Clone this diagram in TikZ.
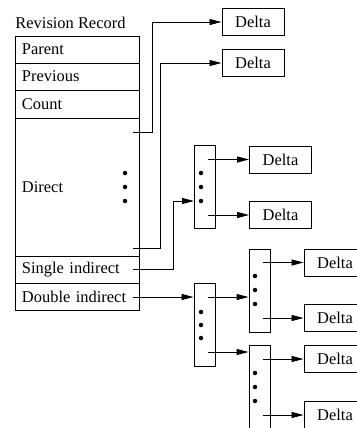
\documentclass[tikz,border=0pt]{standalone}
\usepackage{fontspec}
\setmainfont{Liberation Serif}
\usetikzlibrary{arrows.meta}
\begin{document}
\begin{tikzpicture}[x=1bp,y=-1bp,
  font=\fontsize{16.5}{18}\selectfont,
  line width=0.9bp,
  rowbox/.style={draw, minimum width=124bp, text width=110bp, inner xsep=7bp, inner ysep=0pt, align=left},
  delta/.style={draw, minimum width=62bp, minimum height=27bp, inner sep=0pt},
  ibox/.style={draw, minimum width=21bp, minimum height=83bp, inner sep=0pt},
  conn/.style={draw, -{Triangle[length=12bp,width=6bp]}},
  dotmark/.style={fill, circle, inner sep=0pt, minimum size=4.5bp}
]
\useasboundingbox (0,0) rectangle (357,428);

% Revision record
\node[anchor=base west, inner sep=0pt] (title) at (15,28) {Revision Record};
\node[rowbox, minimum height=27bp] (parent) at (77,49.5) {\mbox{Parent}};
\node[rowbox, minimum height=27bp] (previous) at (77,76.5) {\mbox{Previous}};
\node[rowbox, minimum height=28bp] (count) at (77,104) {\mbox{Count}};
\node[rowbox, minimum height=138bp] (direct) at (77,187) {\mbox{Direct}};
\node[rowbox, minimum height=27bp] (single) at (77,269.5) {\mbox{Single indirect}};
\node[rowbox, minimum height=27bp] (double) at (77,296.5) {\mbox{Double indirect}};

\node[dotmark] (dd1) at (125,173) {};
\node[dotmark] (dd2) at (125,187) {};
\node[dotmark] (dd3) at (125,201) {};

% Delta boxes
\node[delta] (D1) at (253,22) {Delta};
\node[delta] (D2) at (253,63) {Delta};
\node[delta] (D3) at (280.5,159.5) {Delta};
\node[delta] (D4) at (280.5,215) {Delta};
\node[delta] (D5) at (335,262.5) {Delta};
\node[delta] (D6) at (335,318) {Delta};
\node[delta] (D7) at (335,359) {Delta};
\node[delta] (D8) at (335,415) {Delta};

% Indirect blocks
\node[ibox] (I1) at (204.5,186.5) {};
\node[ibox] (I2) at (204.5,324.5) {};
\node[ibox] (I3) at (259.5,290.5) {};
\node[ibox] (I4) at (259.5,386.5) {};

\foreach \n/\x/\a/\b/\c in {a/201/173/187/201, b/201/312/325/338, c/255/276/290/304, d/255/373/387/401}{
  \node[dotmark] (\n1) at (\x,\a) {};
  \node[dotmark] (\n2) at (\x,\b) {};
  \node[dotmark] (\n3) at (\x,\c) {};
}

% connector start points
\coordinate (s1) at (133,132);
\coordinate (s2) at (133,248);
\coordinate (s3) at (133,269.5);
\coordinate (s4) at (133,297);
\coordinate (i1a) at (208,159.5);
\coordinate (i1b) at (208,215);
\coordinate (i1in) at (194,201);
\coordinate (i2a) at (208,297);
\coordinate (i2b) at (208,352);
\coordinate (i3a) at (263,262.5);
\coordinate (i3b) at (263,318);
\coordinate (i4a) at (263,359);
\coordinate (i4b) at (263,415);

% connectors
\draw[conn] (s1) -- (152,132) |- (D1.west);
\draw[conn] (s2) -- (160,248) |- (D2.west);
\draw[conn] (s3) -- (173,269.5) |- (i1in);
\draw[conn] (s4) -- (I2.west |- s4);
\draw[conn] (i1a) -- (D3.west);
\draw[conn] (i1b) -- (D4.west);
\draw[conn] (i2a) -- (I3.west |- i2a);
\draw[conn] (i2b) -- (I4.west |- i2b);
\draw[conn] (i3a) -- (D5.west);
\draw[conn] (i3b) -- (D6.west);
\draw[conn] (i4a) -- (D7.west);
\draw[conn] (i4b) -- (D8.west);
\end{tikzpicture}
\end{document}
